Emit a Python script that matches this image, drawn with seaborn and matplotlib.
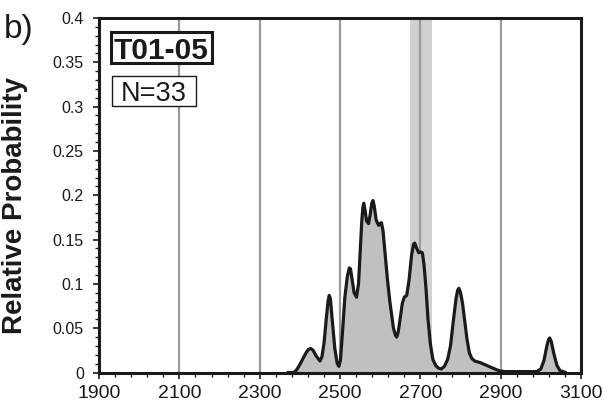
import numpy as np
import pandas as pd
import matplotlib
matplotlib.use("Agg")
import matplotlib.pyplot as plt
from matplotlib.patches import Rectangle
from matplotlib.ticker import FixedLocator
import seaborn as sns

# ---- data ----
ages = [2370, 2385, 2392, 2400, 2408, 2415, 2421, 2427, 2433, 2440, 2450, 2455,
        2460, 2466, 2470, 2473, 2476, 2480, 2487, 2493, 2497, 2501, 2506, 2512,
        2518, 2523, 2526, 2530, 2535, 2541, 2546, 2550, 2554, 2557, 2559, 2562,
        2566, 2571, 2575, 2579, 2582, 2585, 2590, 2596, 2600, 2603, 2607, 2612,
        2618, 2624, 2633, 2638, 2641, 2645, 2650, 2655, 2660, 2666, 2672, 2678,
        2683, 2686, 2690, 2696, 2701, 2705, 2709, 2714, 2719, 2725, 2731, 2738,
        2745, 2752, 2760, 2768, 2775, 2782, 2789, 2793, 2796, 2800, 2805, 2810,
        2816, 2822, 2828, 2835, 2850, 2865, 2880, 2896, 2910, 2990, 3000, 3008,
        3015, 3019, 3022, 3026, 3032, 3040, 3048, 3062]
probability = [0.0, 0.0, 0.003, 0.009, 0.016, 0.022, 0.026, 0.027, 0.025, 0.019,
               0.013, 0.018, 0.033, 0.062, 0.080, 0.087, 0.083, 0.062, 0.027,
               0.010, 0.007, 0.014, 0.045, 0.085, 0.108, 0.118, 0.117, 0.105,
               0.090, 0.085, 0.100, 0.135, 0.170, 0.187, 0.191, 0.184, 0.171,
               0.168, 0.178, 0.191, 0.194, 0.188, 0.172, 0.166, 0.168, 0.169,
               0.160, 0.135, 0.105, 0.080, 0.050, 0.042, 0.040, 0.046, 0.062,
               0.078, 0.085, 0.087, 0.105, 0.132, 0.145, 0.146, 0.141, 0.135,
               0.136, 0.135, 0.122, 0.095, 0.060, 0.032, 0.015, 0.008, 0.005,
               0.004, 0.007, 0.015, 0.030, 0.058, 0.084, 0.093, 0.095, 0.090,
               0.078, 0.060, 0.038, 0.022, 0.016, 0.013, 0.011, 0.008, 0.005,
               0.002, 0.001, 0.001, 0.004, 0.014, 0.030, 0.037, 0.039, 0.035,
               0.022, 0.008, 0.002, 0.0]
gridlines = [2100, 2300, 2500, 2700, 2900]
band = [2673, 2730]
x_ticks = [1900, 2100, 2300, 2500, 2700, 2900, 3100]
y_ticks = [0, 0.05, 0.1, 0.15, 0.2, 0.25, 0.3, 0.35, 0.4]
y_labels = ["0", "0.05", "0.1", "0.15", "0.2", "0.25", "0.3", "0.35", "0.4"]
sample_name = "T01-05"
n_label = "N=33"
panel_label = "b)"

df = pd.DataFrame({"age": ages, "prob": probability})

sns.set_theme(style="white")
plt.rcParams["font.family"] = ["Liberation Sans", "DejaVu Sans"]

fig = plt.figure(figsize=(6.08, 4.08), dpi=100)
ax = fig.add_axes([0.163, 0.087, 0.7926, 0.869])

for g in gridlines:
    ax.axvline(g, color="#9a9a9a", lw=1.6, zorder=1)
ax.axvspan(band[0], band[1], color="#d0d1d3", lw=0, zorder=0.5)

ax.fill_between(df["age"], df["prob"], 0, color="#bfc0c2", lw=0, zorder=2)
sns.lineplot(data=df, x="age", y="prob", ax=ax, color="#1a1a1a", lw=2.3,
             zorder=3, sort=False)
for line in ax.lines[-1:]:
    line.set_solid_joinstyle("round")

ax.set_xlim(1900, 3100)
ax.set_ylim(0, 0.4)
ax.set_xticks(x_ticks)
ax.set_xticklabels([str(t) for t in x_ticks], fontsize=14)
ax.set_yticks(y_ticks)
ax.set_yticklabels(y_labels, fontsize=11.5)
ax.xaxis.set_minor_locator(FixedLocator(np.arange(1900, 3101, 40)))
ax.yaxis.set_minor_locator(FixedLocator(np.arange(0, 0.401, 0.01)))
ax.tick_params(axis="both", which="major", direction="out", length=4, width=1.2,
               color="#1a1a1a", labelcolor="#1a1a1a", left=True, bottom=True)
ax.tick_params(axis="x", which="major", pad=5)
ax.tick_params(axis="y", which="major", pad=7)
ax.tick_params(axis="both", which="minor", direction="out", length=3, width=1.0,
               color="#1a1a1a", left=True, bottom=True)

for s in ax.spines.values():
    s.set_visible(True)
    s.set_color("#1a1a1a")
    s.set_linewidth(2.2)
    s.set_zorder(5)

ax.set_xlabel("")
ax.set_ylabel("Relative Probability", fontsize=20, fontweight="bold",
              color="#1a1a1a", labelpad=12)
ax.yaxis.set_label_coords(-0.148, 0.47)

# label boxes (axes-fraction layout)
ax.add_patch(Rectangle((0.0247, 0.8728), 0.2096, 0.0874, transform=ax.transAxes,
                       fc="white", ec="#1a1a1a", lw=2.2, zorder=6))
ax.text(0.1295, 0.9165, sample_name, transform=ax.transAxes, ha="center",
        va="center_baseline", fontsize=21.5, fontweight="bold", color="#1a1a1a",
        zorder=7)
ax.add_patch(Rectangle((0.0268, 0.7516), 0.1743, 0.0845, transform=ax.transAxes,
                       fc="white", ec="#1a1a1a", lw=1.0, zorder=6))
ax.text(0.114, 0.794, n_label, transform=ax.transAxes, ha="center",
        va="center_baseline", fontsize=19.5, color="#1a1a1a", zorder=7)

fig.text(0.006, 0.965, panel_label, fontsize=24, color="#1a1a1a", ha="left", va="top")

fig.savefig("out.png", dpi=100)
